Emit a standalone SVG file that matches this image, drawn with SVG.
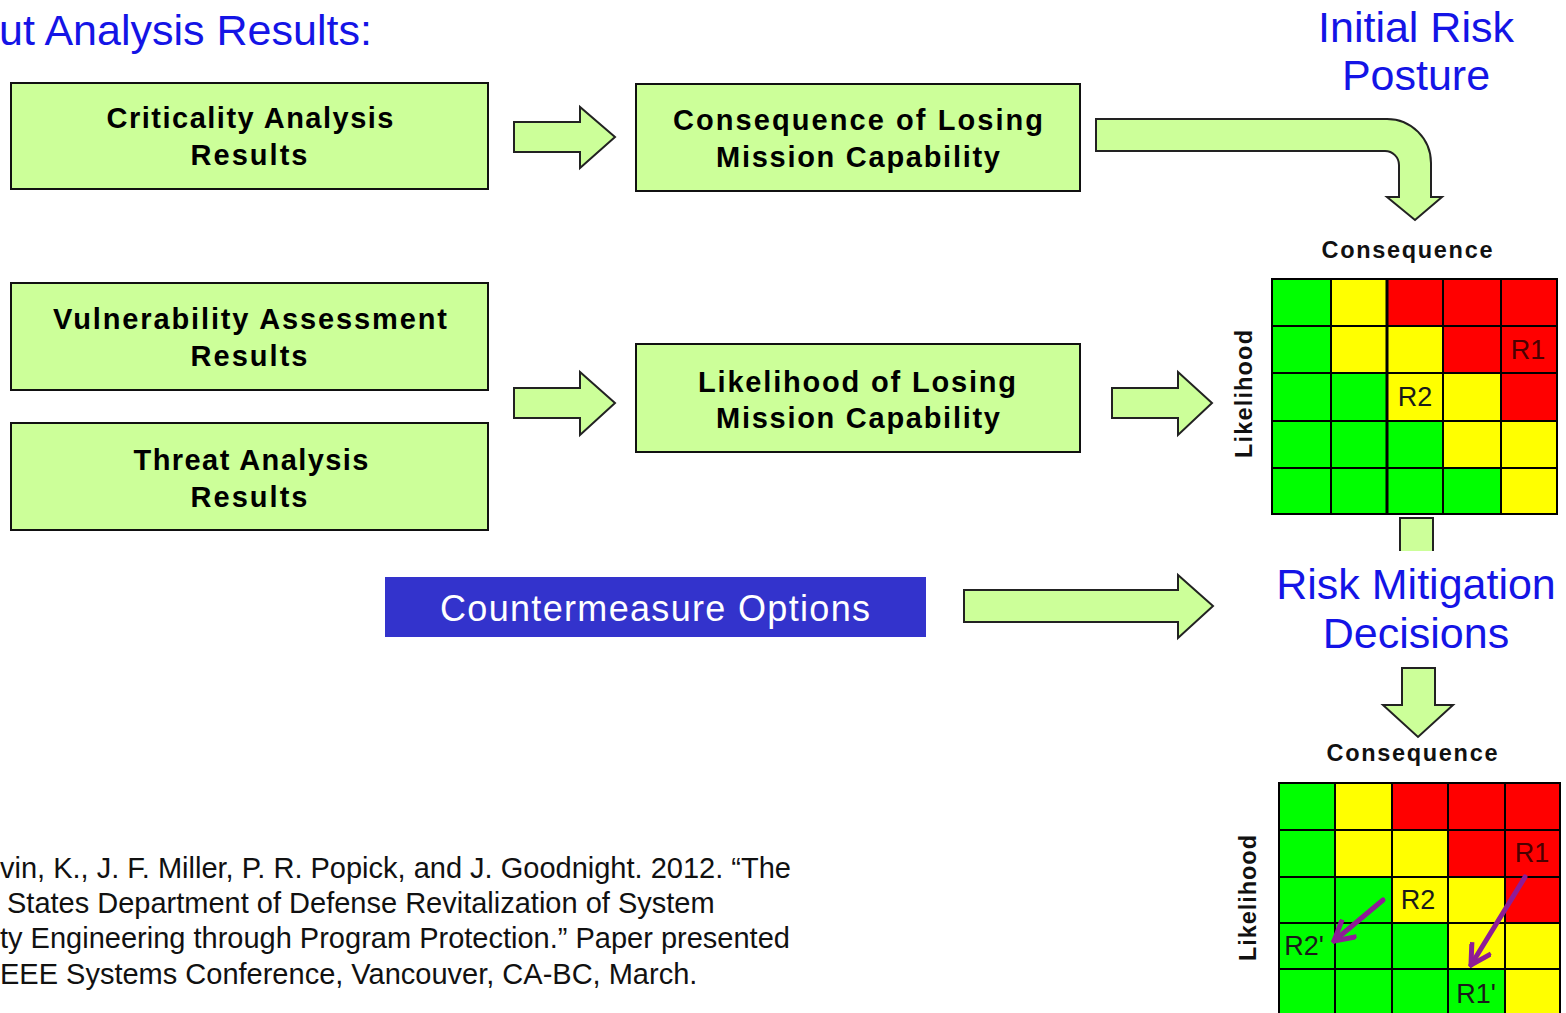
<svg xmlns="http://www.w3.org/2000/svg" width="1566" height="1013" viewBox="0 0 1566 1013">
<style>
.box{fill:#CCFF99;stroke:#111;stroke-width:2}
.bt{font-family:"Liberation Sans",Arial,sans-serif;font-weight:bold;font-size:29px;fill:#000;text-anchor:middle}
.blue{font-family:"Liberation Sans",Arial,sans-serif;font-size:43px;fill:#1414E6;text-anchor:middle}
.arr{fill:#CCFF99;stroke:#222;stroke-width:2;stroke-linejoin:miter}
.ax{font-family:"Liberation Sans",Arial,sans-serif;font-weight:bold;font-size:23.5px;fill:#111;text-anchor:middle}
.g{fill:#00FF00}.y{fill:#FFFF00}.r{fill:#FF0000}
.grid{stroke:#000;stroke-width:2;fill:none}
.rl{font-family:"Liberation Sans",Arial,sans-serif;font-size:27px;fill:#1a1a1a;text-anchor:middle}
.cit{font-family:"Liberation Sans",Arial,sans-serif;font-size:29px;fill:#111}
.mv{stroke:#8E1C96;stroke-width:5;fill:none;stroke-linecap:round}
</style>
<defs>
<marker id="ph" viewBox="0 0 10 10" refX="9" refY="5" markerWidth="5" markerHeight="5" orient="auto" markerUnits="strokeWidth">
<polyline points="1,0.5 9,5 1,9.5" fill="none" stroke="#8E1C96" stroke-width="2"/>
</marker>
</defs>

<text x="-1" y="45" class="blue" style="text-anchor:start;font-size:43px">ut Analysis Results:</text>

<g id="initial-risk-posture">
<text x="1416" y="42" class="blue">Initial Risk</text>
<text x="1416" y="90" class="blue">Posture</text>
</g>

<g id="criticality">
<rect class="box" x="11" y="83" width="477" height="106"/>
<text class="bt" x="250" y="128" textLength="287" lengthAdjust="spacing">Criticality Analysis</text>
<text class="bt" x="249" y="165" textLength="117" lengthAdjust="spacing">Results</text>
</g>
<g id="consequence">
<rect class="box" x="636" y="84" width="444" height="107"/>
<text class="bt" x="858" y="130" textLength="370" lengthAdjust="spacing">Consequence of Losing</text>
<text class="bt" x="858" y="167" textLength="284" lengthAdjust="spacing">Mission Capability</text>
</g>
<g id="vulnerability">
<rect class="box" x="11" y="283" width="477" height="107"/>
<text class="bt" x="250" y="329" textLength="394" lengthAdjust="spacing">Vulnerability Assessment</text>
<text class="bt" x="249" y="366" textLength="117" lengthAdjust="spacing">Results</text>
</g>
<g id="threat">
<rect class="box" x="11" y="423" width="477" height="107"/>
<text class="bt" x="251" y="470" textLength="235" lengthAdjust="spacing">Threat Analysis</text>
<text class="bt" x="249" y="507" textLength="117" lengthAdjust="spacing">Results</text>
</g>
<g id="likelihood">
<rect class="box" x="636" y="344" width="444" height="108"/>
<text class="bt" x="857" y="392" textLength="318" lengthAdjust="spacing">Likelihood of Losing</text>
<text class="bt" x="858" y="428" textLength="284" lengthAdjust="spacing">Mission Capability</text>
</g>
<g id="countermeasure">
<rect x="385" y="577" width="541" height="60" fill="#3333CC"/>
<text x="655" y="621" font-family="'Liberation Sans',Arial,sans-serif" font-size="36" fill="#fff" text-anchor="middle" textLength="430" lengthAdjust="spacing">Countermeasure Options</text>
</g>

<g id="risk-mitigation">
<text x="1416" y="599" class="blue">Risk Mitigation</text>
<text x="1416" y="648" class="blue">Decisions</text>
</g>

<g id="connectors">
<path class="arr" d="M514,122 H580 V107 L615,137 L580,168 V152 H514 Z"/>
<path class="arr" d="M514,388 H580 V372 L615,403 L580,435 V418 H514 Z"/>
<path class="arr" d="M1112,388 H1178 V372 L1212,403 L1178,435 V418 H1112 Z"/>
<path class="arr" d="M964,590 H1178 V575 L1213,606 L1178,638 V622 H964 Z"/>
<path class="arr" d="M1096,119 H1387 A44,44 0 0 1 1431,163 V197 H1442 L1415,220 L1387,197 H1399 V165 A14,14 0 0 0 1385,151 H1096 Z"/>
<path d="M1400,551 V518 H1433 V551" fill="#CCFF99" stroke="#222" stroke-width="2"/>
<rect x="1401" y="519" width="31" height="32" fill="#CCFF99"/>
<path class="arr" d="M1402,668 H1435 V705 H1453 L1418,737 L1383,705 H1402 Z"/>
</g>

<g id="initial-matrix">
<text class="ax" x="1407" y="258" textLength="171" lengthAdjust="spacing">Consequence</text>
<text class="ax" transform="translate(1252,394) rotate(-90)" textLength="128" lengthAdjust="spacing">Likelihood</text>
<rect class="g" x="1272" y="279" width="59" height="47"/><rect class="y" x="1331" y="279" width="56" height="47"/><rect class="r" x="1387" y="279" width="56" height="47"/><rect class="r" x="1443" y="279" width="58" height="47"/><rect class="r" x="1501" y="279" width="56" height="47"/>
<rect class="g" x="1272" y="326" width="59" height="47"/><rect class="y" x="1331" y="326" width="56" height="47"/><rect class="y" x="1387" y="326" width="56" height="47"/><rect class="r" x="1443" y="326" width="58" height="47"/><rect class="r" x="1501" y="326" width="56" height="47"/>
<rect class="g" x="1272" y="373" width="59" height="48"/><rect class="g" x="1331" y="373" width="56" height="48"/><rect class="y" x="1387" y="373" width="56" height="48"/><rect class="y" x="1443" y="373" width="58" height="48"/><rect class="r" x="1501" y="373" width="56" height="48"/>
<rect class="g" x="1272" y="421" width="59" height="47"/><rect class="g" x="1331" y="421" width="56" height="47"/><rect class="g" x="1387" y="421" width="56" height="47"/><rect class="y" x="1443" y="421" width="58" height="47"/><rect class="y" x="1501" y="421" width="56" height="47"/>
<rect class="g" x="1272" y="468" width="59" height="46"/><rect class="g" x="1331" y="468" width="56" height="46"/><rect class="g" x="1387" y="468" width="56" height="46"/><rect class="g" x="1443" y="468" width="58" height="46"/><rect class="y" x="1501" y="468" width="56" height="46"/>
<path class="grid" d="M1272,279 H1557 V514 H1272 Z M1331,279 V514 M1443,279 V514 M1501,279 V514 M1272,326 H1557 M1272,373 H1557 M1272,421 H1557 M1272,468 H1557"/>
<path d="M1387,279 V514" stroke="#000" stroke-width="3"/>
<text class="rl" x="1528" y="359" style="fill:#4a0000">R1</text>
<text class="rl" x="1415" y="406">R2</text>
</g>

<g id="mitigated-matrix">
<text class="ax" x="1412" y="761" textLength="171" lengthAdjust="spacing">Consequence</text>
<text class="ax" transform="translate(1256,898) rotate(-90)" textLength="126" lengthAdjust="spacing">Likelihood</text>
<rect class="g" x="1279" y="783" width="56" height="47"/><rect class="y" x="1335" y="783" width="57" height="47"/><rect class="r" x="1392" y="783" width="56" height="47"/><rect class="r" x="1448" y="783" width="57" height="47"/><rect class="r" x="1505" y="783" width="55" height="47"/>
<rect class="g" x="1279" y="830" width="56" height="47"/><rect class="y" x="1335" y="830" width="57" height="47"/><rect class="y" x="1392" y="830" width="56" height="47"/><rect class="r" x="1448" y="830" width="57" height="47"/><rect class="r" x="1505" y="830" width="55" height="47"/>
<rect class="g" x="1279" y="877" width="56" height="46"/><rect class="g" x="1335" y="877" width="57" height="46"/><rect class="y" x="1392" y="877" width="56" height="46"/><rect class="y" x="1448" y="877" width="57" height="46"/><rect class="r" x="1505" y="877" width="55" height="46"/>
<rect class="g" x="1279" y="923" width="56" height="46"/><rect class="g" x="1335" y="923" width="57" height="46"/><rect class="g" x="1392" y="923" width="56" height="46"/><rect class="y" x="1448" y="923" width="57" height="46"/><rect class="y" x="1505" y="923" width="55" height="46"/>
<rect class="g" x="1279" y="969" width="56" height="50"/><rect class="g" x="1335" y="969" width="57" height="50"/><rect class="g" x="1392" y="969" width="56" height="50"/><rect class="g" x="1448" y="969" width="57" height="50"/><rect class="y" x="1505" y="969" width="55" height="50"/>
<path class="grid" d="M1279,1020 V783 H1560 V1020 M1335,783 V1020 M1392,783 V1020 M1448,783 V1020 M1505,783 V1020 M1279,830 H1560 M1279,877 H1560 M1279,923 H1560 M1279,969 H1560"/>
<text class="rl" x="1532" y="862" style="fill:#4a0000">R1</text>
<text class="rl" x="1418" y="909">R2</text>
<text class="rl" x="1304" y="955">R2'</text>
<text class="rl" x="1476" y="1003">R1'</text>
<line class="mv" x1="1525" y1="877" x2="1471" y2="965" marker-end="url(#ph)"/>
<line class="mv" x1="1383" y1="900" x2="1334" y2="941" marker-end="url(#ph)"/>
</g>

<g id="citation">
<text class="cit" x="0" y="878">vin, K., J. F. Miller, P. R. Popick, and J. Goodnight. 2012. “The</text>
<text class="cit" x="7" y="913">States Department of Defense Revitalization of System</text>
<text class="cit" x="0" y="948">ty Engineering through Program Protection.” Paper presented</text>
<text class="cit" x="0" y="984">EEE Systems Conference, Vancouver, CA-BC, March.</text>
</g>
</svg>
